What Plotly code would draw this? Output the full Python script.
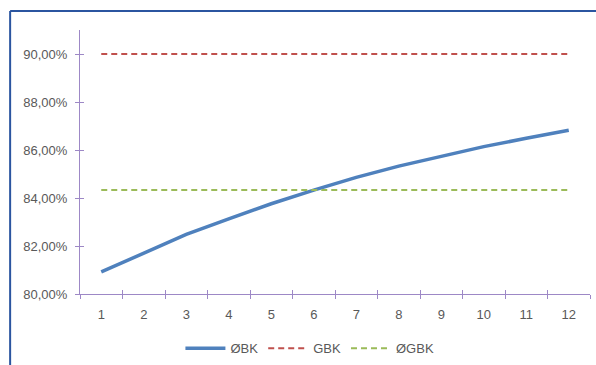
import plotly.graph_objects as go

# Periods and rates (in %)
periods = ["1", "2", "3", "4", "5", "6", "7", "8", "9", "10", "11", "12"]
obk = [80.92, 81.70, 82.48, 83.13, 83.76, 84.33, 84.86, 85.33, 85.74, 86.14, 86.49, 86.82]
gbk = [90.0] * 12
ogbk = [84.33] * 12

y_tickvals = [80, 82, 84, 86, 88, 90]
y_ticktext = ["80,00%", "82,00%", "84,00%", "86,00%", "88,00%", "90,00%"]

axis_color = "#9D88C6"
text_color = "#595959"
font_family = "Liberation Sans, Arial, sans-serif"

fig = go.Figure()
fig.add_trace(go.Scatter(x=periods, y=obk, name="ØBK", mode="lines",
                         line=dict(color="#4F81BD", width=3.5)))
fig.add_trace(go.Scatter(x=periods, y=gbk, name="GBK", mode="lines",
                         line=dict(color="#C0504D", width=2, dash="6px,4px")))
fig.add_trace(go.Scatter(x=periods, y=ogbk, name="ØGBK", mode="lines",
                         line=dict(color="#9BBB59", width=2, dash="6px,4px")))

# Invisible trace on the overlay axes so they render their inner tick marks
fig.add_trace(go.Scatter(x=periods, y=ogbk, xaxis="x2", yaxis="y2", mode="lines",
                         line=dict(width=0), showlegend=False, hoverinfo="skip"))

common_x = dict(type="category", tickson="boundaries", range=[-0.5, 11.5], automargin=False,
                showgrid=False, zeroline=False, tickcolor=axis_color, ticklen=4, tickwidth=1)
common_y = dict(range=[80, 91], tickvals=y_tickvals, showgrid=False, zeroline=False,
                automargin=False, tickcolor=axis_color, ticklen=4, tickwidth=1)

fig.update_layout(
    width=596, height=365,
    margin=dict(l=80, r=6, t=30, b=71, autoexpand=False),
    paper_bgcolor="white", plot_bgcolor="white",
    font=dict(family=font_family, size=13, color=text_color),
    xaxis=dict(**common_x, ticks="outside", showline=True, linecolor=axis_color,
               linewidth=1, ticklabelstandoff=8, tickfont=dict(size=13, color=text_color)),
    yaxis=dict(**common_y, ticktext=y_ticktext, ticks="outside", showline=True,
               linecolor=axis_color, linewidth=1, ticklabelstandoff=5,
               tickfont=dict(size=13, color=text_color)),
    xaxis2=dict(**common_x, overlaying="x", ticks="inside", showticklabels=False,
                showline=False),
    yaxis2=dict(**common_y, overlaying="y", ticks="inside", showticklabels=False,
                showline=False),
    legend=dict(orientation="h", x=0.52, xref="container", xanchor="center",
                y=0.046, yref="container", yanchor="middle",
                font=dict(size=13, color=text_color), itemwidth=40, tracegroupgap=0),
    showlegend=True,
)

# Chart frame (left and top edges)
frame_color = "#2B55A0"
fig.add_shape(type="line", xref="paper", yref="paper", x0=-0.137, x1=-0.137,
              y0=1.072, y1=-0.3, line=dict(color=frame_color, width=2))
fig.add_shape(type="line", xref="paper", yref="paper", x0=-0.137, x1=1.02,
              y0=1.072, y1=1.072, line=dict(color=frame_color, width=2))

fig.write_html("out.html")
